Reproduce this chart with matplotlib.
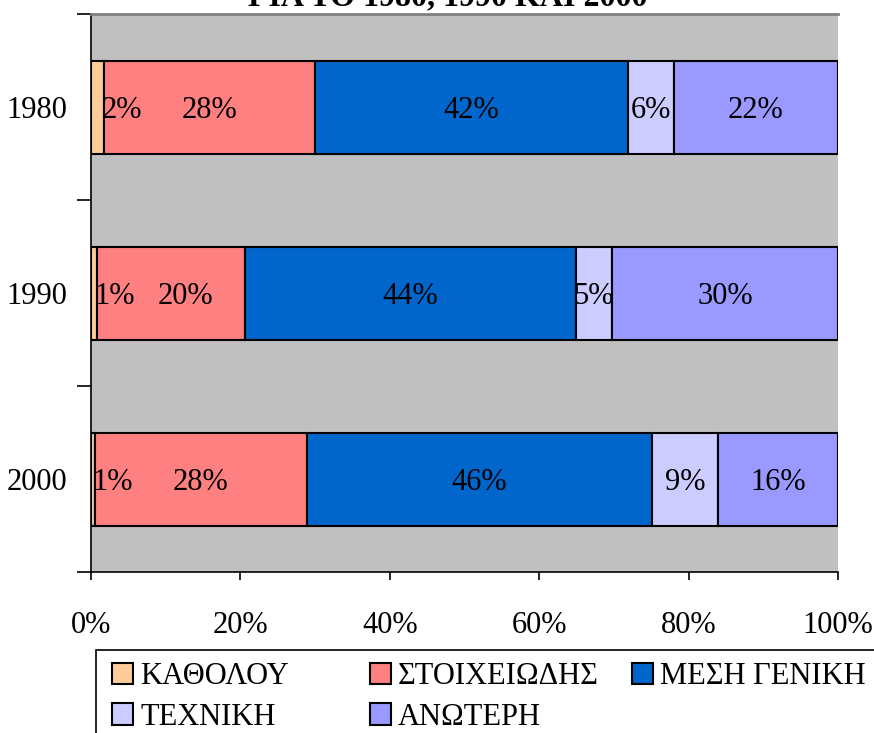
import numpy as np
import matplotlib
matplotlib.use("Agg")
import matplotlib.pyplot as plt
from matplotlib.patches import Rectangle

plt.rcParams['font.family'] = ['Liberation Serif', 'DejaVu Serif']

years = ["1980", "1990", "2000"]
categories = ["ΚΑΘΟΛΟΥ", "ΣΤΟΙΧΕΙΩΔΗΣ", "ΜΕΣΗ ΓΕΝΙΚΗ", "ΤΕΧΝΙΚΗ", "ΑΝΩΤΕΡΗ"]
katholou = [1.7, 0.8, 0.5]
stoixeiodis = [28.3, 19.8, 28.4]
mesi_geniki = [41.9, 44.3, 46.2]
texniki = [6.1, 4.8, 8.8]
anoteri = [22.0, 30.3, 16.1]
labels = [["2%", "28%", "42%", "6%", "22%"],
          ["1%", "20%", "44%", "5%", "30%"],
          ["1%", "28%", "46%", "9%", "16%"]]
colors = ["#FFCC99", "#FF8080", "#0066CC", "#CCCCFF", "#9999FF"]
title = "ΓΙΑ ΤΟ 1980, 1990 ΚΑΙ 2000"

series = [katholou, stoixeiodis, mesi_geniki, texniki, anoteri]
fs = 22
W, H = 874, 733

fig = plt.figure(figsize=(W / 100, H / 100), dpi=100)
ax = fig.add_axes([91 / W, 1 - 572 / H, (838 - 91) / W, (572 - 14) / H])
ax.set_facecolor("#C0C0C0")

y = np.arange(len(years))
left = np.zeros(len(years))
bars = []
for i, (vals, col, name) in enumerate(zip(series, colors, categories)):
    vals = np.array(vals)
    b = ax.barh(y, vals, left=left, height=0.5, color=col, edgecolor="black",
                linewidth=1.5, label=name)
    bars.append(b)
    for j in range(len(years)):
        if i == 0:
            # tiny segment: label sits just to its right
            ax.text(left[j] + vals[j] - 0.3, y[j], labels[j][i], ha="left",
                    va="center_baseline", fontsize=fs)
        else:
            xc = left[j] + vals[j] / 2
            if i == 1 and vals[j] < 25:
                xc += 2
            ax.text(xc, y[j], labels[j][i], ha="center", va="center_baseline",
                    fontsize=fs)
    left = left + vals

ax.set_xlim(0, 100)
ax.set_ylim(len(years) - 0.5, -0.5)
ax.set_xticks(np.arange(0, 101, 20))
ax.set_xticklabels([f"{v}%" for v in range(0, 101, 20)], fontsize=fs)
ax.set_yticks(y)
ax.set_yticklabels(years, fontsize=fs)
ax.tick_params(axis="y", length=0, pad=17)
ax.set_yticks(np.arange(-0.5, len(years), 1), minor=True)
ax.tick_params(axis="y", which="minor", length=10, width=1.2, direction="out")
ax.tick_params(axis="x", length=6, width=1.2, direction="out", pad=22)
for s in ["left", "bottom"]:
    ax.spines[s].set_linewidth(1.2)
    ax.spines[s].set_color("black")
ax.spines["top"].set_color("#808080")
ax.spines["top"].set_linewidth(2)
ax.spines["right"].set_visible(False)

fig.text(0.512, 1 - 5 / H, title, ha="center", va="baseline",
         fontsize=23, fontweight="bold")

# legend: equal-width columns, filled row by row, frame runs off the page
fig.add_artist(Rectangle((96 / W, -0.1), 0.95, (H - 650) / H + 0.1,
                         transform=fig.transFigure, fill=False,
                         edgecolor="black", linewidth=1.2))
columns = [[0, 3], [1, 4], [2]]
col_x = [112, 370, 632]
for idx, cx in zip(columns, col_x):
    fig.legend([bars[k] for k in idx], [categories[k] for k in idx],
               loc="upper left", bbox_to_anchor=(cx / W, 1 - 662 / H),
               ncol=1, fontsize=fs, frameon=False, handlelength=0.7,
               handleheight=0.7, handletextpad=0.22, labelspacing=0.38,
               borderpad=0, borderaxespad=0)

fig.savefig("out.png", dpi=100)
